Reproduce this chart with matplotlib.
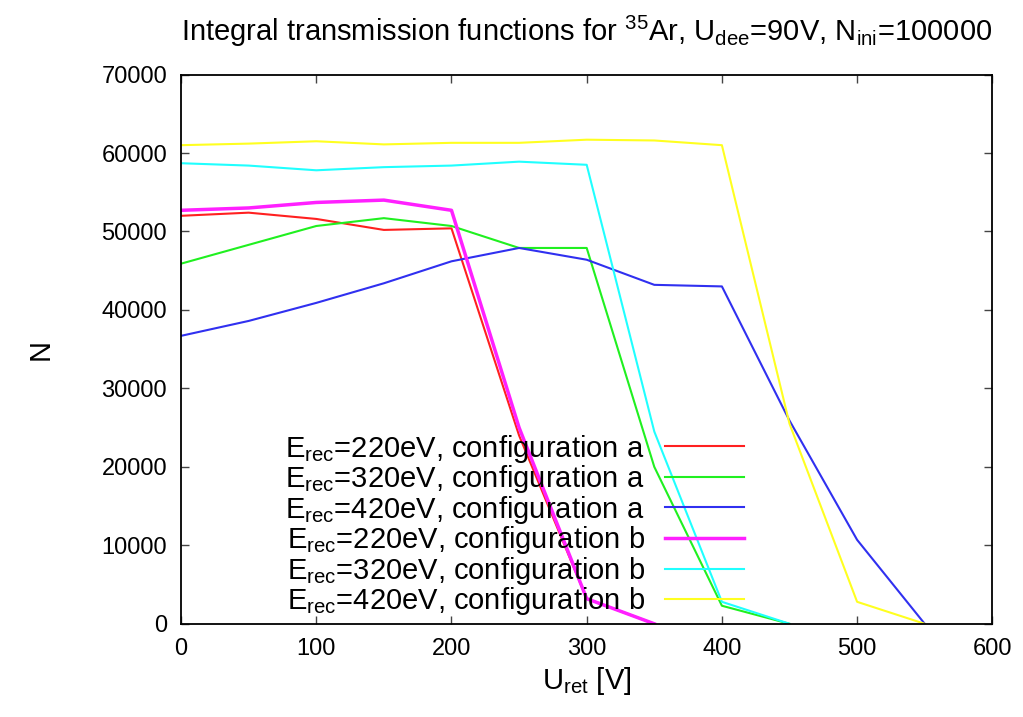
import matplotlib
matplotlib.use("Agg")
import matplotlib.pyplot as plt

plt.rcParams['font.family'] = ['Liberation Sans', 'DejaVu Sans']
plt.rcParams['mathtext.default'] = 'regular'

### data
u_ret = [0, 50, 100, 150, 200, 250, 300, 350, 400, 450, 500, 550]

n_220_a = [52000, 52400, 51600, 50200, 50400, 24000, 3200, 0]
n_320_a = [45900, 48300, 50700, 51700, 50700, 47900, 47900, 20000, 2300, 0]
n_420_a = [36700, 38600, 40900, 43400, 46200, 47900, 46400, 43200, 43000, 25900, 10700, 0]
n_220_b = [52700, 53000, 53700, 54000, 52700, 25000, 3200, 0]
n_320_b = [58700, 58400, 57800, 58200, 58400, 58900, 58500, 24500, 2800, 0]
n_420_b = [61000, 61200, 61500, 61100, 61300, 61300, 61700, 61600, 61000, 25500, 2800, 0]

labels = [r'E$_{rec}$=220eV, configuration a',
          r'E$_{rec}$=320eV, configuration a',
          r'E$_{rec}$=420eV, configuration a',
          r'E$_{rec}$=220eV, configuration b',
          r'E$_{rec}$=320eV, configuration b',
          r'E$_{rec}$=420eV, configuration b']

series = [n_220_a, n_320_a, n_420_a, n_220_b, n_320_b, n_420_b]
colors = ['#ff2020', '#20f020', '#3030f0', '#ff20ff', '#20ffff', '#ffff20']
widths = [1.5, 1.5, 1.5, 2.5, 1.5, 1.5]

fig = plt.figure(figsize=(10.23, 7.17), dpi=100)
ax = fig.add_axes([0.177, 0.13, 0.793, 0.766])

for vals, lab, c, w in zip(series, labels, colors, widths):
    ax.plot(u_ret[:len(vals)], vals, color=c, lw=w, label=lab)

ax.set_xlim(0, 600)
ax.set_ylim(0, 70000)
ax.set_xticks(range(0, 601, 100))
ax.set_yticks(range(0, 70001, 10000))
ax.tick_params(direction='in', length=6, width=1, labelsize=17, pad=10,
               top=True, right=True, color='#444444')
for sp in ax.spines.values():
    sp.set_linewidth(1.3)

ax.set_xlabel(r'U$_{ret}$ [V]', fontsize=21, labelpad=4)
ax.set_ylabel('N', fontsize=21, labelpad=34)
ax.set_title(r'Integral transmission functions for $^{35}$Ar, U$_{dee}$=90V, N$_{ini}$=100000',
             fontsize=21, pad=24)

ax.legend(loc='lower right', bbox_to_anchor=(0.726, -0.036), frameon=False,
          markerfirst=False, fontsize=21, handlelength=2.7, handletextpad=0.7,
          labelspacing=-0.05)

fig.savefig('out.png', dpi=100)
